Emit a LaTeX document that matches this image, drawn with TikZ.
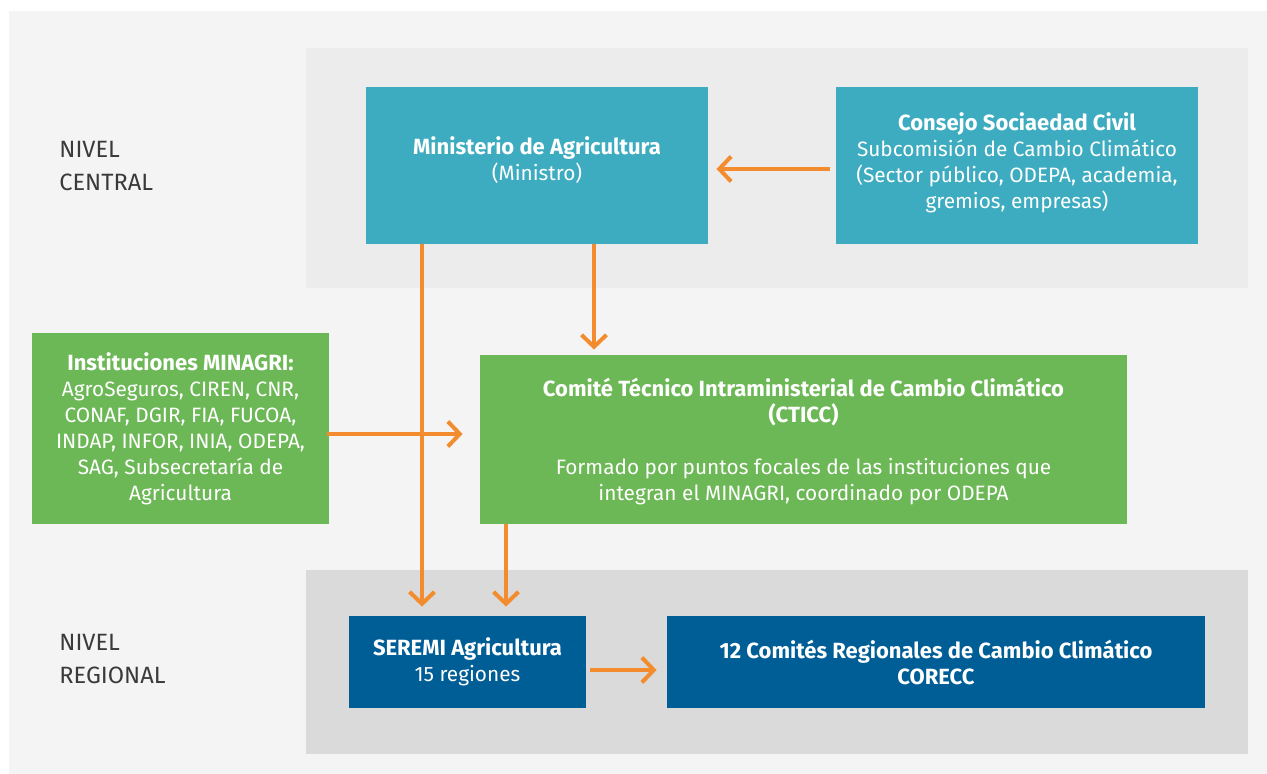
\documentclass[tikz,border=0pt]{standalone}
\usepackage{fontspec}
\setmainfont{Fira Sans}
\usetikzlibrary{positioning,arrows.meta}
\definecolor{outerbg}{HTML}{F4F4F4}
\definecolor{centralbg}{HTML}{ECECEC}
\definecolor{regionalbg}{HTML}{DADADA}
\definecolor{teal}{HTML}{3EACC0}
\definecolor{leaf}{HTML}{6DB856}
\definecolor{navy}{HTML}{005E97}
\definecolor{orange}{HTML}{F28C2F}
\definecolor{labelgrey}{HTML}{3A3A3A}
\newcommand{\boxhead}[1]{{\fontsize{11}{13}\selectfont\bfseries #1}}

\begin{document}
\begin{tikzpicture}[x=0.5pt,y=-0.5pt,
    box/.style={inner sep=0pt, align=center, text=white, font=\fontsize{10.4}{13}\selectfont},
    level/.style={anchor=west, inner sep=0pt, align=left, text=labelgrey, font=\fontsize{11.8}{16.5}\selectfont},
    flow/.style={draw=orange, line width=2pt, -{Straight Barb[length=6pt,width=12.5pt]}}]
      \useasboundingbox (0,0) rectangle (1267,774);
      % backgrounds
      \fill[outerbg] (9,11) rectangle (1267,774);
      \fill[centralbg] (306,48) rectangle (1248,288);
      \fill[regionalbg] (306,570) rectangle (1248,754);

      \node[level] (central) at (59,166) {NIVEL\\CENTRAL};
      \node[level] (regional) at (59,659) {NIVEL\\REGIONAL};

      \node[box, fill=teal, minimum width=171pt, minimum height=78.5pt] (minis) at (537,165.5)
        {\boxhead{Ministerio de Agricultura}\\(Ministro)\\[-6pt]};
      \node[box, fill=teal, minimum width=181pt, minimum height=78.5pt] (consejo) at (1017,165.5)
        {\boxhead{Consejo Sociaedad Civil}\\Subcomisión de Cambio Climático\\(Sector público, ODEPA, academia,\\gremios, empresas)\\[-8pt]};
      \node[box, fill=leaf, minimum width=148.5pt, minimum height=95.5pt] (inst) at (180.5,428.5)
        {\boxhead{Instituciones MINAGRI:}\\AgroSeguros, CIREN, CNR,\\CONAF, DGIR, FIA, FUCOA,\\INDAP, INFOR, INIA, ODEPA,\\SAG, Subsecretaría de\\Agricultura};
      \node[box, fill=leaf, minimum width=323.5pt, minimum height=84.5pt] (comite) at (803.5,439.5)
        {\boxhead{Comité Técnico Intraministerial de Cambio Climático}\\\boxhead{(CTICC)}\\[13pt]Formado por puntos focales de las instituciones que\\integran el MINAGRI, coordinado por ODEPA\\[-13pt]};
      \node[box, fill=navy, minimum width=118.5pt, minimum height=46pt] (seremi) at (467.5,662)
        {\boxhead{SEREMI Agricultura}\\15 regiones};
      \node[box, fill=navy, minimum width=269pt, minimum height=46pt] (corecc) at (936,662)
        {\boxhead{12 Comités Regionales de Cambio Climático}\\\boxhead{CORECC}};

      % connectors
      \draw[flow, shorten <=3pt, shorten >=4pt] ([yshift=-1.75pt]consejo.west) -- ([yshift=-1.75pt]consejo.west -| minis.east);
      \draw[flow, shorten >=2.5pt] ([xshift=28.5pt]minis.south) -- ([xshift=28.5pt]minis.south |- comite.north);
      \draw[flow, shorten >=4.5pt] ([xshift=-57.5pt]minis.south) -- ([xshift=-57.5pt]minis.south |- seremi.north);
      \draw[flow, shorten <=-1pt, shorten >=8.5pt] ([yshift=-2.75pt]inst.east) -- ([yshift=-2.75pt]inst.east -| comite.west);
      \draw[flow, shorten >=4.5pt] ([xshift=-148.75pt]comite.south) -- ([xshift=-148.75pt]comite.south |- seremi.north);
      \draw[flow, shorten <=2pt, shorten >=5pt] ([yshift=-4pt]seremi.east) -- ([yshift=-4pt]seremi.east -| corecc.west);
\end{tikzpicture}
\end{document}
